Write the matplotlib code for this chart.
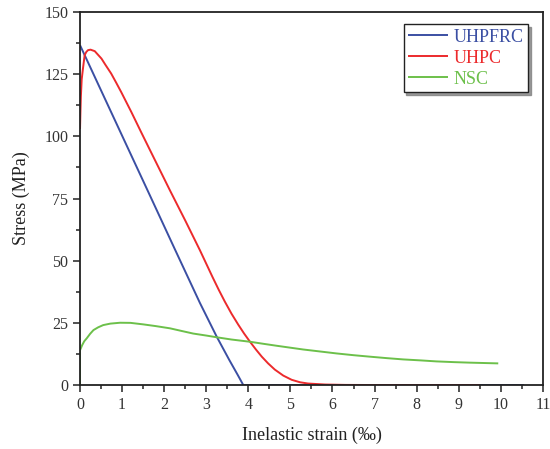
import matplotlib
matplotlib.use("Agg")
import matplotlib.pyplot as plt
from matplotlib.ticker import MultipleLocator

plt.rcParams['font.family'] = ['Liberation Serif', 'DejaVu Serif']

# Tensile softening curves: stress (MPa) vs inelastic strain (‰)
uhpfrc_x = [0.0, 0.5, 1.0, 1.66, 2.26, 2.85, 3.25, 3.55, 3.75, 3.88, 5.0, 7.0, 9.0, 10.55]
uhpfrc_y = [136.7, 118.5, 100.3, 76.3, 54.4, 33.0, 19.4, 10.0, 4.0, 0.0, 0.0, 0.0, 0.0, 0.0]

uhpc_x = [0.0, 0.01, 0.02, 0.04, 0.07, 0.11, 0.15, 0.19, 0.25, 0.35, 0.51, 0.6, 0.74,
          0.86, 0.98, 1.22, 1.45, 1.66, 1.9, 2.14, 2.5, 2.85, 3.15, 3.3, 3.44, 3.6,
          3.76, 3.9, 4.04, 4.18, 4.32, 4.47, 4.63, 4.83, 5.03, 5.23, 5.42, 5.82, 6.3,
          7.0, 8.0, 9.0, 9.5]
uhpc_y = [103.0, 110.0, 116.0, 123.0, 127.3, 132.7, 134.0, 134.7, 134.9, 134.3, 131.3,
          128.9, 125.3, 121.6, 117.8, 109.8, 101.8, 94.6, 86.4, 78.2, 66.2, 54.2, 43.4,
          38.2, 33.6, 28.7, 24.3, 20.7, 17.4, 14.3, 11.4, 8.7, 6.2, 3.8, 2.1, 1.1, 0.6,
          0.2, 0.05, 0.0, 0.0, 0.0, 0.0]

nsc_x = [0.0, 0.0, 0.05, 0.1, 0.16, 0.24, 0.32, 0.43, 0.55, 0.72, 0.95, 1.2, 1.5, 1.8,
         2.14, 2.4, 2.69, 3.0, 3.25, 3.6, 4.04, 4.35, 4.67, 5.3, 5.7, 6.1, 6.5, 6.89,
         7.3, 7.68, 8.1, 8.47, 8.9, 9.26, 9.6, 9.94]
nsc_y = [0.0, 14.0, 16.0, 17.6, 18.8, 20.6, 22.1, 23.2, 24.1, 24.7, 25.05, 25.0, 24.4,
         23.7, 22.8, 21.8, 20.7, 19.9, 19.2, 18.3, 17.4, 16.6, 15.8, 14.3, 13.5, 12.7,
         12.0, 11.4, 10.8, 10.3, 9.9, 9.5, 9.2, 9.0, 8.85, 8.7]

series = [("UHPFRC", uhpfrc_x, uhpfrc_y, "#3b4fa3"),
          ("UHPC", uhpc_x, uhpc_y, "#ec2a2c"),
          ("NSC", nsc_x, nsc_y, "#6cc04a")]

fig = plt.figure(figsize=(5.50, 4.49), dpi=100)
ax = fig.add_axes([0.1455, 0.1425, 0.8415, 0.8305])

for name, xs, ys, col in series:
    ax.plot(xs, ys, color=col, lw=1.4, label=name,
            solid_joinstyle='round', solid_capstyle='butt')

ax.set_xlim(0, 11)
ax.set_ylim(0, 150)
ax.xaxis.set_major_locator(MultipleLocator(1))
ax.xaxis.set_minor_locator(MultipleLocator(0.5))
ax.yaxis.set_major_locator(MultipleLocator(25))
ax.yaxis.set_minor_locator(MultipleLocator(12.5))
ax.tick_params(which='both', direction='out', top=False, right=False,
               labelsize=11.5, width=1.1, colors='#222222', labelcolor='#333333')
ax.tick_params(which='major', length=5)
ax.tick_params(which='minor', length=3)
for s in ax.spines.values():
    s.set_linewidth(1.3)
    s.set_color('#222222')

ax.set_xlabel("Inelastic strain (‰)", fontsize=13, color='#222222', labelpad=10)
ax.set_ylabel("Stress (MPa)", fontsize=13, color='#222222', labelpad=10)

leg = ax.legend(loc='upper right', bbox_to_anchor=(0.9676, 0.968), borderaxespad=0,
                fontsize=13, handlelength=2.2, handletextpad=0.3, labelspacing=0.22,
                borderpad=0.25, fancybox=False, edgecolor='#222222', framealpha=1,
                shadow={'color': '#808080', 'alpha': 0.8, 'ox': 2, 'oy': -2})
leg.get_frame().set_linewidth(1.0)
for txt, (_, _, _, col) in zip(leg.get_texts(), series):
    txt.set_color(col)

fig.savefig("out.png", dpi=100)
